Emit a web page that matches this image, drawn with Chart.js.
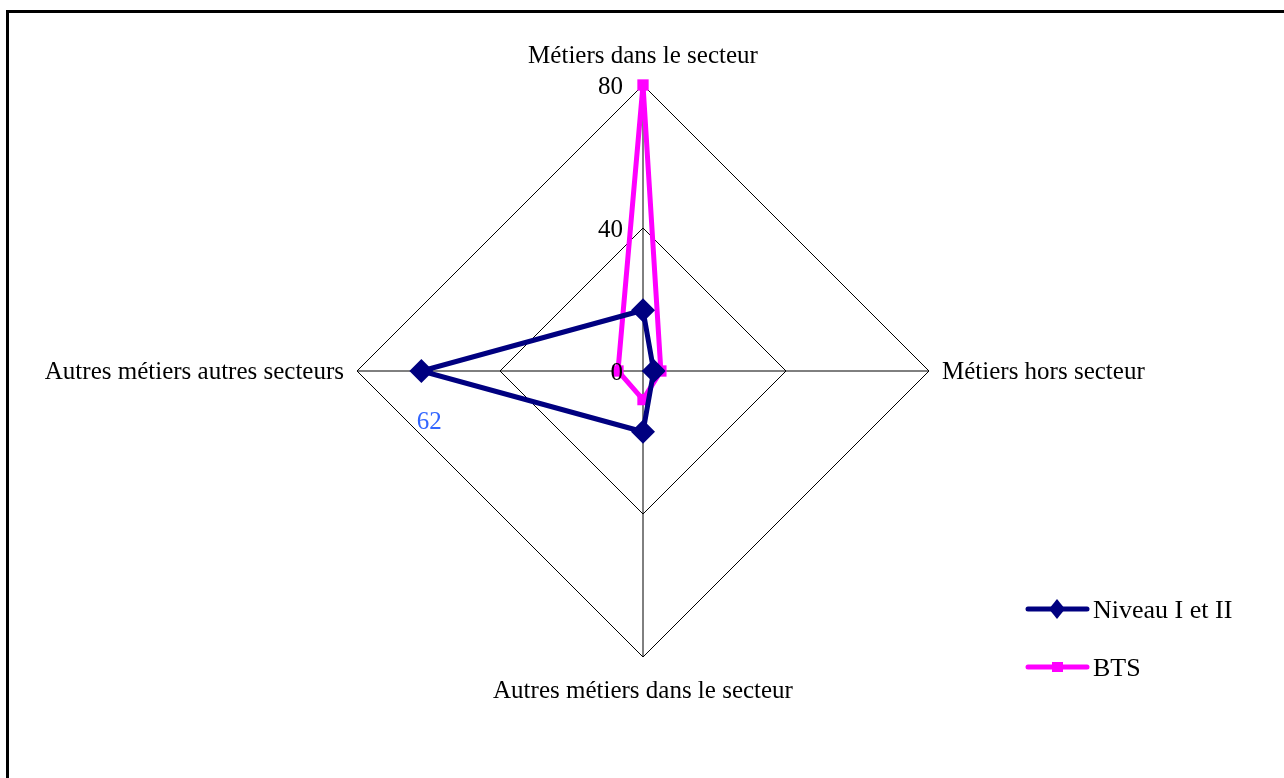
<!DOCTYPE html>
<html>
<head>
<meta charset="utf-8">
<script src="https://cdn.jsdelivr.net/npm/chart.js@4.4.1/dist/chart.umd.min.js"></script>
<style>
  html, body { margin: 0; padding: 0; background: #fff; overflow: hidden; }
  #wrap { width: 1284px; height: 778px; position: relative; }
</style>
</head>
<body>
<div id="wrap"><canvas id="c" width="1284" height="778"></canvas></div>
<script>
// Axes of the radar (clockwise from the top)
const categories = [
  'Métiers dans le secteur',
  'Métiers hors secteur',
  'Autres métiers dans le secteur',
  'Autres métiers autres secteurs'
];
// Share of graduates (%) by type of job
const niveauValues = [17, 3, 17, 62];
const btsValues = [80, 5, 8, 7];
const seriesNames = ['Niveau I et II', 'BTS'];
// Radial scale ticks
const tickValues = [0, 40, 80];

const FONT = '"Liberation Serif", "Times New Roman", serif';
const FONT_SIZE = 25;
const LEGEND_FONT_SIZE = 26;

// Frame, axis titles, tick labels, value label and legend
const decorations = {
  id: 'decorations',
  beforeDraw(chart) {
    const ctx = chart.ctx;
    ctx.save();
    ctx.fillStyle = '#fff';
    ctx.fillRect(0, 0, chart.width, chart.height);
    ctx.strokeStyle = '#000';
    ctx.lineWidth = 3;
    ctx.strokeRect(7.5, 11.5, chart.width + 20, chart.height + 20);
    ctx.restore();
  },
  afterDraw(chart) {
    const ctx = chart.ctx;
    const r = chart.scales.r;
    const cx = r.xCenter, cy = r.yCenter;
    const R = r.drawingArea;
    ctx.save();
    ctx.font = FONT_SIZE + 'px ' + FONT;
    ctx.fillStyle = '#000';

    // axis titles
    ctx.textBaseline = 'alphabetic';
    ctx.textAlign = 'center';
    ctx.fillText(categories[0], cx, cy - R - 22);
    ctx.textAlign = 'left';
    ctx.textBaseline = 'middle';
    ctx.fillText(categories[1], cx + R + 13, cy + 1);
    ctx.textAlign = 'center';
    ctx.textBaseline = 'alphabetic';
    ctx.fillText(categories[2], cx, cy + R + 41);
    ctx.textAlign = 'right';
    ctx.textBaseline = 'middle';
    ctx.fillText(categories[3], cx - R - 13, cy + 1);

    // tick labels along the upper axis
    ctx.textAlign = 'right';
    ctx.textBaseline = 'middle';
    tickValues.forEach(v => {
      const d = r.getDistanceFromCenterForValue(v);
      ctx.fillText(String(v), cx - 20, cy - d + 2);
    });

    // value label for the largest point
    const meta = chart.getDatasetMeta(0);
    const pt = meta.data[3];
    ctx.fillStyle = '#3366FF';
    ctx.textAlign = 'center';
    ctx.fillText(String(niveauValues[3]), pt.x + 8, pt.y + 51);

    // legend
    ctx.font = LEGEND_FONT_SIZE + 'px ' + FONT;
    const legendX = 1028, legendY = [609, 667];
    chart.data.datasets.forEach((ds, i) => {
      const y = legendY[i];
      ctx.strokeStyle = ds.borderColor;
      ctx.lineWidth = ds.borderWidth;
      ctx.lineCap = 'round';
      ctx.beginPath();
      ctx.moveTo(legendX, y);
      ctx.lineTo(legendX + 59, y);
      ctx.stroke();
      ctx.fillStyle = ds.pointBackgroundColor;
      if (ds.pointStyle === 'rectRot') {
        const sx = 8, sy = 10;
        ctx.beginPath();
        ctx.moveTo(legendX + 29, y - sy);
        ctx.lineTo(legendX + 29 + sx, y);
        ctx.lineTo(legendX + 29, y + sy);
        ctx.lineTo(legendX + 29 - sx, y);
        ctx.closePath();
        ctx.fill();
      } else {
        ctx.fillRect(legendX + 24, y - 5, 11, 10);
      }
      ctx.fillStyle = '#000';
      ctx.textAlign = 'left';
      ctx.textBaseline = 'middle';
      ctx.fillText(seriesNames[i], legendX + 65, y + 2);
    });
    ctx.restore();
  }
};

new Chart(document.getElementById('c'), {
  type: 'radar',
  data: {
    labels: categories,
    datasets: [
      {
        label: seriesNames[0],
        data: niveauValues,
        borderColor: '#000080',
        backgroundColor: 'rgba(0,0,0,0)',
        borderWidth: 5,
        pointStyle: 'rectRot',
        pointRadius: 12,
        pointBackgroundColor: '#000080',
        pointBorderColor: '#000080',
        pointBorderWidth: 0,
        fill: false,
        tension: 0
      },
      {
        label: seriesNames[1],
        data: btsValues,
        borderColor: '#FF00FF',
        backgroundColor: 'rgba(0,0,0,0)',
        borderWidth: 5,
        pointStyle: 'rect',
        pointRadius: 8,
        pointBackgroundColor: '#FF00FF',
        pointBorderColor: '#FF00FF',
        pointBorderWidth: 0,
        fill: false,
        tension: 0
      }
    ]
  },
  options: {
    responsive: false,
    animation: false,
    layout: { padding: { left: 357, right: 355, top: 85, bottom: 121 } },
    plugins: { legend: { display: false }, tooltip: { enabled: false } },
    scales: {
      r: {
        min: 0,
        max: 80,
        ticks: { display: false, stepSize: 40 },
        pointLabels: { display: false },
        grid: { color: '#000', lineWidth: 1 },
        angleLines: { color: '#000', lineWidth: 1 }
      }
    }
  },
  plugins: [decorations]
});
</script>
</body>
</html>
